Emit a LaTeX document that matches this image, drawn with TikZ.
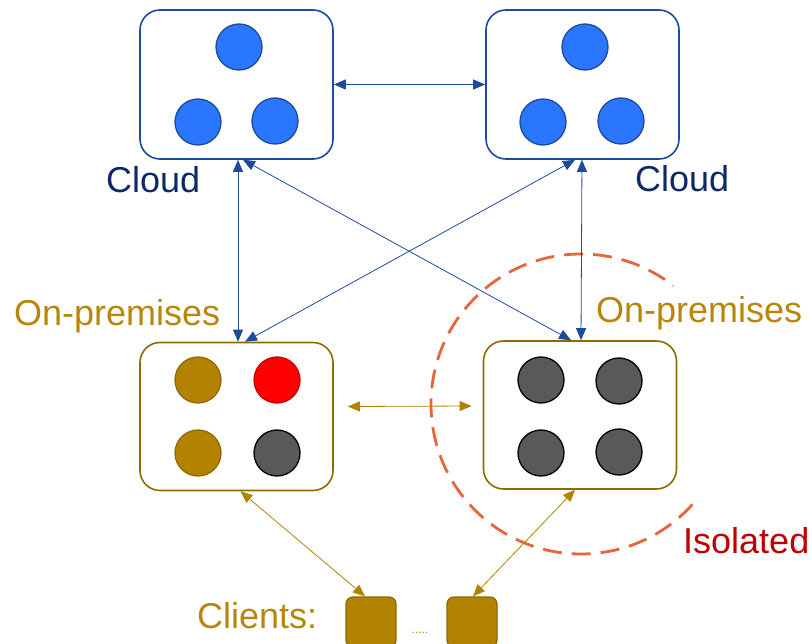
\documentclass[tikz,border=0pt]{standalone}
\usepackage{fontspec}
\setmainfont{Liberation Sans}
\usetikzlibrary{arrows.meta,calc}
\definecolor{cloudline}{HTML}{1C4A9C}
\definecolor{cloudfill}{HTML}{2A76FF}
\definecolor{cloudtext}{HTML}{0E2A66}
\definecolor{goldline}{HTML}{8E6A00}
\definecolor{goldfill}{HTML}{B38300}
\definecolor{goldtext}{HTML}{B8860B}
\definecolor{grayfill}{HTML}{595959}
\definecolor{isored}{HTML}{C00000}
\definecolor{isoline}{HTML}{E8643A}
\tikzset{
  cbox/.style={draw=cloudline, line width=1.6pt, rounded corners=20pt, fill=white,
    minimum width=193pt, minimum height=149pt, inner sep=0pt},
  pbox/.style={draw=goldline, line width=1.6pt, rounded corners=20pt, fill=white,
    minimum width=193pt, minimum height=148pt, inner sep=0pt},
  dot/.style={circle, minimum size=46pt, inner sep=0pt, line width=1.3pt},
  bdot/.style={dot, draw=cloudline, fill=cloudfill},
  gdot/.style={dot, draw=goldline, fill=goldfill},
  rdot/.style={dot, draw=red!80!black, fill=red},
  kdot/.style={dot, draw=black, fill=grayfill},
  client/.style={draw=goldline, line width=1.3pt, fill=goldfill, rounded corners=7pt,
    minimum size=50pt, inner sep=0pt},
  barrow/.style={draw=cloudline, line width=0.8pt, {Triangle[length=12pt,width=10pt]}-{Triangle[length=12pt,width=10pt]}},
  garrow/.style={draw=goldfill, line width=0.8pt, {Triangle[length=12pt,width=10pt]}-{Triangle[length=12pt,width=10pt]}},
  lbl/.style={inner sep=0pt, anchor=base west, font=\fontsize{36}{40}\selectfont}
}
\begin{document}
\begin{tikzpicture}[x=1pt,y=-1pt]
\useasboundingbox (0,0) rectangle (812,644);
\clip (0,0) rectangle (812,644);

% isolated dashed arc
\draw[isoline, line width=2.8pt, dash pattern=on 19pt off 10pt]
  (581,404) ++(42:150) arc[start angle=42, end angle=308, radius=150];

% boxes
\node[cbox] (tl) at (236.5,84.5) {};
\node[cbox] (tr) at (582.5,84.5) {};
\node[pbox] (bl) at (236.5,416.5) {};
\node[pbox] (br) at (580,415) {};

% cloud circles
\node[bdot] (tl1) at (239,47) {};
\node[bdot] (tl2) at (198,122) {};
\node[bdot] (tl3) at (275,121) {};
\node[bdot] (tr1) at (585,47) {};
\node[bdot] (tr2) at (543,122) {};
\node[bdot] (tr3) at (621,121) {};

% on-prem circles
\node[gdot] (bl1) at (198,380) {};
\node[rdot] (bl2) at (277,380) {};
\node[gdot] (bl3) at (198,453) {};
\node[kdot] (bl4) at (277,453) {};
\node[kdot] (br1) at (541,380) {};
\node[kdot] (br2) at (619,381) {};
\node[kdot] (br3) at (541,453) {};
\node[kdot] (br4) at (619,452) {};

% clients
\node[client] (c1) at (371,622) {};
\node[client] (c2) at (472,622) {};
\node[inner sep=0pt, anchor=base, text=goldfill, font=\fontsize{12}{12}\selectfont] (dots) at (420,633) {.....};

% labels
\node[lbl, text=cloudtext] (lc1) at (106,193) {Cloud};
\node[lbl, text=cloudtext] (lc2) at (635,192) {Cloud};
\node[lbl, text=goldtext] (lp1) at (14,326) {On-premises};
\node[lbl, text=goldtext] (lp2) at (596,323) {On-premises};
\node[lbl, text=isored] (liso) at (683,553) {Isolated};
\node[lbl, text=goldtext] (lcl) at (197,628) {Clients:};

% blue connectors
\draw[barrow] (tl.east) -- (tr.west);
\draw[barrow] ([xshift=1.5pt]tl.south) -- ([xshift=1.5pt]bl.north);
\draw[barrow] ([xshift=-0.5pt]tr.south) -- ([xshift=1pt]br.north);
\draw[barrow] ([xshift=6.5pt]tl.south) -- ([xshift=-9pt]br.north);
\draw[barrow] ([xshift=-7.5pt]tr.south) -- ([xshift=8.5pt]bl.north);

% gold connectors
\coordinate (h1) at ($(bl.east)+(14pt,10pt)$);
\coordinate (h2) at ($(br.west)+(-11pt,9pt)$);
\draw[garrow] (h1) -- (h2);
\draw[garrow] ([xshift=4pt]bl.south) -- ([xshift=-6pt]c1.north);
\draw[garrow] ([xshift=-5pt]br.south) -- ([xshift=1pt]c2.north);
\end{tikzpicture}
\end{document}
